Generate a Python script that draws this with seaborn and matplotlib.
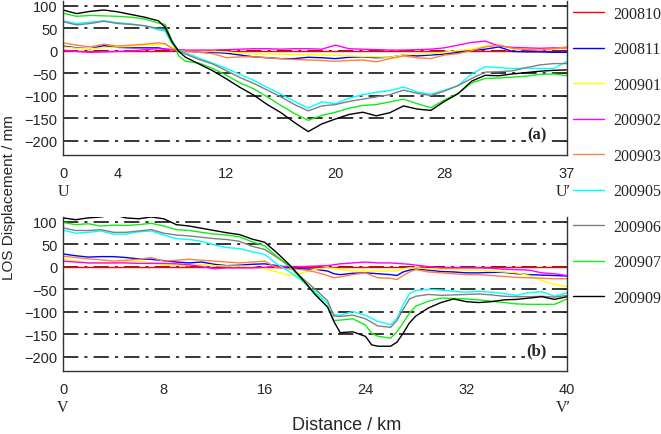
import matplotlib
matplotlib.use("Agg")
import pandas as pd
import matplotlib.pyplot as plt
from matplotlib.lines import Line2D
import seaborn as sns

dates = ["200810", "200811", "200901", "200902", "200903", "200905", "200906", "200907", "200909"]
colors = ["#ff0000", "#0000ff", "#ffff00", "#ff00ff", "#ff8040", "#00ffff", "#808080", "#11ee11", "#000000"]

# profile U-U' (panel a)
km_a = [0, 1, 2, 3, 4, 5, 6, 7, 7.5, 8, 8.5, 9, 10, 11, 12, 13, 14, 15, 16, 17, 18, 19,
        20, 21, 22, 23, 24, 25, 26, 27, 28, 29, 30, 31, 32, 33, 34, 35, 36, 37]
a_200810 = [0, 0, 0, 0, 0, 0, 0, 0, 0, 0, 0, 0, 0, 0, 0, 0, 0, 0, 0, 0,
            0, 0, 0, 0, 0, 0, 0, 0, 0, 0, 0, 0, 0, 0, 0, 0, 0, 0, 0, 0]
a_200811 = [10, 6, 4, 11, 7, 6, 6, 6, 3, 2, -1, -1, -3, -4, -6, -10, -14, -16, -18, -18,
            -15, -16, -18, -15, -14, -16, -15, -10, -12, -10, -8, -4, 0, 3, 8, -2, -3, -3, -4, -4]
a_200901 = [8, 5, 4, 6, 8, 9, 11, 13, 15, 8, 1, 0, -1, -2, -3, -6, -8, -8, -8, -9,
            -10, -10, -11, -12, -13, -14, -15, -10, -8, -7, -4, 0, 3, 10, 12, 4, 3, 2, 4, 6]
a_200902 = [1, -2, -4, -3, -2, -1, 2, 4, 3, 2, 2, 1, 1, 1, 2, 3, 4, 4, 3, 4,
            4, 3, 12, 4, 3, 2, 1, 1, 2, 3, 6, 12, 18, 21, 10, 7, 6, 5, 6, 6]
a_200903 = [17, 12, 8, 14, 10, 12, 14, 17, 15, 5, -1, -2, -4, -7, -16, -14, -14, -16, -18, -20,
            -21, -22, -24, -22, -21, -25, -18, -12, -16, -18, -10, -7, 0, 8, 12, 5, 2, 1, 4, 8]
a_200905 = [66, 60, 63, 66, 62, 59, 55, 46, 43, 15, 0, -5, -17, -28, -40, -53, -66, -82, -97, -113,
            -128, -114, -118, -106, -98, -93, -89, -81, -92, -97, -88, -78, -52, -36, -38, -40, -39, -40, -40, -24]
a_200906 = [64, 57, 60, 65, 60, 58, 55, 49, 47, 18, 0, -8, -20, -30, -45, -60, -73, -88, -103, -120,
            -134, -123, -120, -113, -108, -103, -98, -88, -95, -100, -90, -78, -62, -48, -47, -45, -38, -32, -29, -29]
a_200907 = [83, 76, 78, 77, 76, 74, 70, 61, 58, 22, -12, -24, -28, -40, -55, -72, -85, -103, -122, -140,
            -155, -144, -137, -128, -122, -120, -114, -108, -118, -127, -110, -95, -72, -62, -61, -59, -57, -53, -52, -56]
a_200909 = [90, 82, 87, 90, 86, 80, 74, 66, 52, 20, -2, -15, -30, -45, -63, -82, -99, -120, -138, -160,
            -180, -163, -152, -142, -137, -145, -138, -123, -130, -133, -113, -96, -68, -55, -56, -52, -49, -46, -44, -43]

# profile V-V' (panel b)
km_b = [0, 1, 2, 3, 4, 5, 6, 7, 8, 9, 10, 11, 12, 13, 14, 15, 16, 17, 18, 19, 20, 21,
        21.5, 22, 23, 24, 24.5, 25, 26, 26.5, 27, 27.5, 28,
        29, 30, 31, 32, 33, 34, 35, 36, 37, 38, 39, 40]
b_200810 = [0, 0, 0, 0, 0, 0, 0, 0, 0, 0, 0, 0, 0, 0, 0, 0, 0, 0, 0, 0, 0, 0,
            0, 0, 0, 0, 0, 0, 0, 0, 0, 0, 0,
            0, 0, 0, 0, 0, 0, 0, 0, 0, 0, 0, 0]
b_200811 = [28, 24, 21, 22, 22, 20, 17, 16, 13, 10, 8, 10, 5, 2, 3, 5, 6, 2, -3, -5, -6, -10,
            -16, -18, -15, -14, -15, -16, -18, -20, -12, -8, -5,
            -8, -11, -12, -14, -14, -13, -13, -16, -18, -19, -20, -21]
b_200901 = [17, 12, 8, 8, 8, 10, 12, 8, 4, 3, 2, 5, 2, 1, 1, 0, -5, -12, -20, -14, -6, -3,
            -4, -6, -10, -10, -10, -10, -10, -10, -5, -3, -3,
            -5, -7, -7, -8, -8, -10, -12, -14, -20, -31, -40, -44]
b_200902 = [12, 10, 8, 8, 8, 8, 7, 7, 7, 6, 4, 0, -5, -3, -3, -3, -2, 1, 0, 0, 1, 2,
            4, 6, 8, 10, 9, 8, 8, 7, 6, 5, 3,
            0, -3, -3, -3, -3, -4, -6, -7, -8, -14, -16, -20]
b_200903 = [23, 20, 17, 15, 12, 14, 16, 20, 12, 14, 16, 14, 12, 10, 8, 10, 12, -3, -5, -7, -12, -20,
            -25, -23, -18, -14, -20, -25, -26, -29, -20, -12, -7,
            -12, -14, -16, -18, -18, -20, -22, -24, -25, -26, -27, -27]
b_200905 = [81, 74, 76, 79, 72, 72, 77, 79, 70, 62, 60, 56, 48, 42, 40, 33, 27, 5, -12, -32, -56, -82,
            -107, -108, -100, -108, -115, -122, -129, -115, -85, -60, -53,
            -51, -52, -55, -57, -55, -57, -60, -64, -58, -56, -66, -58]
b_200906 = [86, 80, 80, 82, 76, 76, 79, 82, 74, 70, 68, 65, 62, 60, 56, 45, 38, 20, 0, -26, -50, -76,
            -110, -111, -108, -116, -124, -132, -135, -120, -95, -72, -66,
            -62, -64, -63, -62, -61, -63, -66, -67, -67, -66, -68, -64]
b_200907 = [98, 93, 95, 90, 92, 91, 93, 96, 90, 82, 80, 76, 72, 70, 66, 55, 46, 22, 0, -30, -60, -90,
            -120, -119, -116, -130, -148, -155, -159, -145, -125, -103, -88,
            -77, -70, -71, -72, -74, -77, -80, -83, -84, -84, -84, -72]
b_200909 = [108, 104, 108, 110, 115, 108, 106, 110, 106, 93, 90, 85, 80, 75, 71, 61, 54, 30, 3, -28, -62, -90,
            -122, -147, -145, -155, -174, -177, -177, -168, -148, -125, -110,
            -92, -80, -72, -78, -80, -78, -74, -73, -70, -67, -73, -67]

yticks = [100, 50, 0, -50, -100, -150, -200]


def make_long(km, series):
    frames = []
    for d, vals in zip(dates, series):
        frames.append(pd.DataFrame({"km": km, "los": vals, "date": d}))
    return pd.concat(frames, ignore_index=True)


df_a = make_long(km_a, [a_200810, a_200811, a_200901, a_200902, a_200903,
                        a_200905, a_200906, a_200907, a_200909])
df_b = make_long(km_b, [b_200810, b_200811, b_200901, b_200902, b_200903,
                        b_200905, b_200906, b_200907, b_200909])

sns.set_style("white")
plt.rcParams["font.family"] = ["Liberation Sans", "DejaVu Sans"]
serif = ["Liberation Serif", "DejaVu Serif"]
palette = dict(zip(dates, colors))

fig = plt.figure(figsize=(6.61, 4.35), dpi=100)
ax_a = fig.add_axes([63 / 661, 1 - 156 / 435, 504 / 661, 154 / 435])
ax_b = fig.add_axes([63 / 661, 1 - 372 / 435, 504 / 661, 154 / 435])

panels = [
    (ax_a, df_a, 37, [0, 4, 12, 20, 28, 37], ("U", "U\u2032"), "(a)"),
    (ax_b, df_b, 40, [0, 8, 16, 24, 32, 40], ("V", "V\u2032"), "(b)"),
]
for ax, df, xmax, xt, ends, tag in panels:
    for y in yticks:
        ax.axhline(y, color="black", lw=1.1, ls=(0, (10, 4, 2, 4)), zorder=0.5)
    sns.lineplot(data=df, x="km", y="los", hue="date", hue_order=dates, palette=palette,
                 estimator=None, sort=False, lw=1.0, legend=False, ax=ax)
    ax.set_xlim(0, xmax)
    ax.set_ylim(-232, 110)
    ax.set_xticks(xt)
    ax.set_yticks(yticks)
    ax.set_xlabel("")
    ax.set_ylabel("")
    ax.spines["top"].set_visible(False)
    for s in ["left", "bottom", "right"]:
        ax.spines[s].set_color("#333333")
        ax.spines[s].set_linewidth(1.0)
    ax.tick_params(axis="x", direction="out", length=3, width=0.8, pad=5, labelsize=10.5)
    ax.tick_params(axis="y", left=False, right=True, direction="in", length=3, width=0.8,
                   pad=4, labelsize=10.5)
    trans = ax.get_xaxis_transform()
    ax.text(0, -0.235, ends[0], transform=trans, ha="center", va="center",
            family=serif, fontsize=11.5)
    ax.text(xmax * 0.992, -0.235, ends[1], transform=trans, ha="center", va="center",
            family=serif, fontsize=11.5)
    ax.text(0.94, 0.135, tag, transform=ax.transAxes, ha="center", va="center",
            family=serif, fontsize=12, fontweight="bold",
            bbox=dict(facecolor="white", edgecolor="none", pad=1.0), zorder=3)

handles = [Line2D([], [], color=c, lw=1.0) for c in colors]
fig.legend(handles, dates, loc="upper left", bbox_to_anchor=(573 / 661, 1 - 7 / 435),
           frameon=False, prop={"family": serif, "size": 11.5}, handlelength=1.95,
           handletextpad=0.55, labelspacing=1.22, borderaxespad=0, borderpad=0)

fig.text(347 / 661, 1 - 426 / 435, "Distance / km", ha="center", va="center", fontsize=13)
fig.text(9 / 661, 1 - 198 / 435, "LOS Displacement / mm", ha="center", va="center",
         rotation=90, fontsize=11)

fig.savefig("out.png", dpi=100)
